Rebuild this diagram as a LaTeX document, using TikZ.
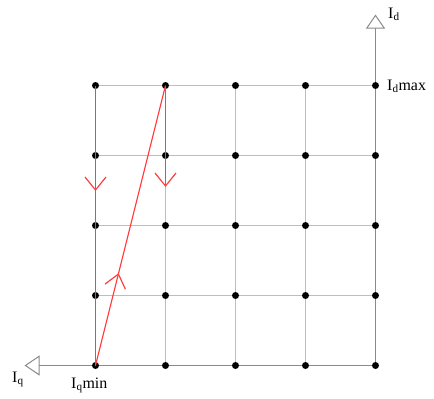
\documentclass[tikz,border=0pt]{standalone}
\usepackage{fontspec}
\setmainfont{Liberation Serif}
\usetikzlibrary{arrows.meta,decorations.markings,calc}
\definecolor{redline}{HTML}{FF4040}
\definecolor{gridgray}{HTML}{BDBDBD}
\definecolor{axisgray}{HTML}{8A8A8A}
\tikzset{redtip/.tip={Straight Barb[length=13bp,width=21bp,line width=1.2bp]}}
\begin{document}
\begin{tikzpicture}[x=1bp,y=-1bp,
  gridline/.style={draw=gridgray,line width=1bp},
  axisline/.style={draw=axisgray,line width=1bp},
  dot/.style={circle,fill=black,inner sep=0pt,minimum size=7bp},
  redpath/.style={draw=redline,line width=1.5bp},
  vee/.style={draw=redline,line width=1.2bp},
  lbl/.style={inner sep=0pt,font=\fontsize{16}{18}\selectfont}]
\useasboundingbox (0,0) rectangle (434,398);
\begin{scope}[shift={(0.5,0.5)}]
% grid lines
\foreach \y in {85,155,225,295} \draw[gridline] (95,\y) -- (375,\y);
\foreach \x in {165,235,305} \draw[gridline] (\x,85) -- (\x,365);
% axes
\coordinate (dtop) at (375,14);
\coordinate (qleft) at (24,365);
\draw[axisline,-{Triangle[open,length=14bp,width=19bp]}] (375,365) -- (dtop);
\draw[axisline,-{Triangle[open,length=15bp,width=20bp]}] (375,365) -- (qleft);
\end{scope}
% dots
\foreach \i/\x in {0/95.5,1/165.5,2/235.5,3/305.5,4/375.5}
  \foreach \j/\y in {0/85.5,1/155.5,2/225.5,3/295.5,4/365.5}
    \node[dot] (p\i\j) at (\x,\y) {};
% red paths
\coordinate (c0tip) at (95.5,190);
\coordinate (c1end) at (165.5,186);
\draw[redpath] (p00.center) -- (p04.center);
\draw[vee] ([xshift=-10.5bp,yshift=13bp]c0tip) -- (c0tip) -- ([xshift=10.5bp,yshift=13bp]c0tip);
\draw[redpath] (p10.center) -- (c1end);
\draw[vee] ([xshift=-10.5bp,yshift=13bp]c1end) -- (c1end) -- ([xshift=10.5bp,yshift=13bp]c1end);
\draw[redpath,line width=1.2bp,postaction={decorate},decoration={markings,mark=at position 0.33 with {\arrow[redline]{redtip}}}] (p04.center) -- (p10.center);
% labels
\node[lbl,anchor=base west] (ld) at (388,18) {I\textsubscript{d}};
\node[lbl,anchor=base west] (ldmax) at (387,90) {I\textsubscript{d}max};
\node[lbl,anchor=base west] (lq) at (12,382) {I\textsubscript{q}};
\node[lbl,anchor=base west] (lqmin) at (71,388) {I\textsubscript{q}min};
\end{tikzpicture}
\end{document}
